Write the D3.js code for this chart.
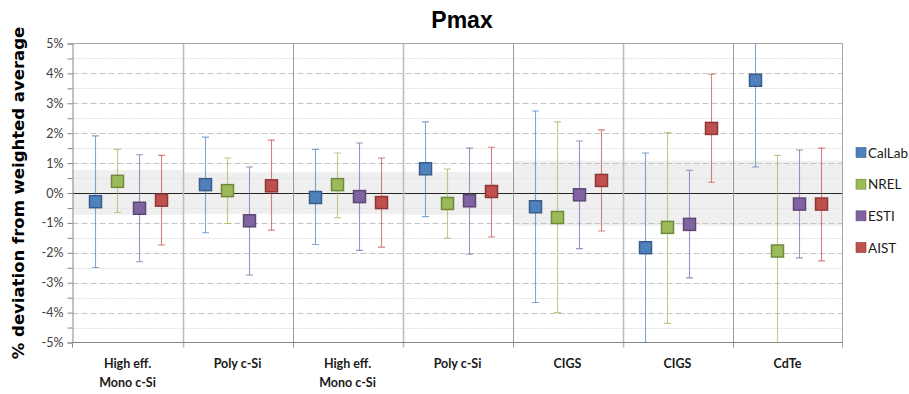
<!DOCTYPE html>
<html>
<head>
<meta charset="utf-8">
<script src="https://cdn.jsdelivr.net/npm/d3@7/dist/d3.min.js"></script>
<style>
  body { margin: 0; background: #fff; }
  svg { display: block; }
  .narrow { font-family: "Lato", "Roboto", sans-serif; }
</style>
</head>
<body>
<div id="chart"></div>
<script>
// categories along the x axis (two rounds of modules)
const categories = ["High eff.|Mono c-Si", "Poly c-Si", "High eff.|Mono c-Si", "Poly c-Si", "CIGS", "CIGS", "CdTe"];
const seriesNames = ["CalLab", "NREL", "ESTI", "AIST"];
const seriesColors = ["#4f81bd", "#9bbb59", "#8064a2", "#c0504d"];
const seriesStroke = ["#385d8a", "#71893f", "#5c4776", "#8c3836"];

// % deviation from weighted average, with upper / lower ends of the error bars
const calLab     = [-0.29, 0.28, -0.15, 0.81, -0.46, -1.83, 3.77];
const calLabUp   = [1.91, 1.87, 1.46, 2.38, 2.74, 1.34, 6.67];
const calLabDown = [-2.49, -1.33, -1.72, -0.79, -3.66, -5.00, 0.87];

const nrel     = [0.39, 0.08, 0.28, -0.35, -0.82, -1.15, -1.94];
const nrelUp   = [1.46, 1.17, 1.34, 0.80, 2.38, 2.02, 1.26];
const nrelDown = [-0.65, -1.02, -0.83, -1.51, -4.00, -4.36, -5.14];

const esti     = [-0.51, -0.93, -0.12, -0.26, -0.06, -1.05, -0.37];
const estiUp   = [1.28, 0.87, 1.67, 1.50, 1.74, 0.76, 1.44];
const estiDown = [-2.30, -2.74, -1.92, -2.05, -1.86, -2.84, -2.17];

const aist     = [-0.24, 0.24, -0.32, 0.05, 0.42, 2.16, -0.37];
const aistUp   = [1.26, 1.77, 1.17, 1.53, 2.11, 3.97, 1.50];
const aistDown = [-1.74, -1.24, -1.81, -1.47, -1.27, 0.36, -2.27];

// grey acceptance band per category
const bandUpper = [0.77, 0.69, 0.71, 0.71, 1.08, 1.08, 1.08];
const bandLower = [-0.73, -0.70, -0.70, -0.73, -1.09, -1.09, -1.10];

const yTicks = d3.range(-10, 11).map(d => d / 2);

const seriesData = [
  [calLab, calLabUp, calLabDown],
  [nrel, nrelUp, nrelDown],
  [esti, estiUp, estiDown],
  [aist, aistUp, aistDown]
];

const points = [];
seriesData.forEach((s, si) => {
  s[0].forEach((v, ci) => {
    points.push({ series: si, cat: ci, value: v, hi: s[1][ci], lo: s[2][ci] });
  });
});

const width = 909, height = 394;
const plot = { left: 72.5, right: 842.5, top: 43.5, bottom: 342.5 };

const svg = d3.select("#chart").append("svg")
  .attr("width", width)
  .attr("height", height);

const x0 = d3.scaleBand()
  .domain(d3.range(categories.length))
  .range([plot.left, plot.right]);

const x1 = d3.scaleBand()
  .domain(d3.range(seriesNames.length))
  .range([0, x0.bandwidth()])
  .paddingOuter(0.5);

const y = d3.scaleLinear()
  .domain([-5, 5])
  .range([plot.bottom, plot.top]);

svg.append("defs").append("clipPath").attr("id", "plotClip")
  .append("rect")
  .attr("x", plot.left)
  .attr("y", plot.top)
  .attr("width", plot.right - plot.left)
  .attr("height", plot.bottom - plot.top);

// bands
svg.append("g").selectAll("rect")
  .data(categories)
  .enter().append("rect")
  .attr("x", (d, i) => x0(i))
  .attr("width", x0.bandwidth())
  .attr("y", (d, i) => y(bandUpper[i]))
  .attr("height", (d, i) => y(bandLower[i]) - y(bandUpper[i]))
  .attr("fill", "#efefef");

// grid lines
svg.append("g").selectAll("line")
  .data(yTicks.filter(t => t !== 0 && t !== 5 && t !== -5))
  .enter().append("line")
  .attr("x1", plot.left)
  .attr("x2", plot.right)
  .attr("y1", d => Math.round(y(d)) + 0.5)
  .attr("y2", d => Math.round(y(d)) + 0.5)
  .attr("stroke", d => Number.isInteger(d) ? "#c4c4c4" : "#e2e2e2")
  .attr("stroke-dasharray", d => Number.isInteger(d) ? "6,3" : "2,1");

// zero line
svg.append("line")
  .attr("x1", plot.left).attr("x2", plot.right)
  .attr("y1", Math.round(y(0)) + 0.5).attr("y2", Math.round(y(0)) + 0.5)
  .attr("stroke", "#262626")
  .attr("stroke-width", 1.2);

// top and right border
svg.append("line")
  .attr("x1", plot.left).attr("x2", plot.right)
  .attr("y1", plot.top).attr("y2", plot.top)
  .attr("stroke", "#a6a6a6");
svg.append("line")
  .attr("x1", plot.right).attr("x2", plot.right)
  .attr("y1", plot.top).attr("y2", plot.bottom + 5)
  .attr("stroke", "#a6a6a6");

// category separators
svg.append("g").selectAll("line")
  .data(d3.range(1, categories.length))
  .enter().append("line")
  .attr("x1", d => Math.round(x0(d)) + 0.5)
  .attr("x2", d => Math.round(x0(d)) + 0.5)
  .attr("y1", plot.top)
  .attr("y2", plot.bottom + 5)
  .attr("stroke", (d) => d === 1 || d === 3 || d === 5 ? "#bdbdbd" : "#9a9a9a")
  .attr("stroke-width", (d) => d === 1 || d === 3 || d === 5 ? 1.6 : 1);

// y axis
const yAxis = d3.axisLeft(y)
  .tickValues(yTicks)
  .tickSize(5)
  .tickPadding(4)
  .tickFormat(d => Number.isInteger(d) ? d + "%" : "");

const gy = svg.append("g")
  .attr("transform", `translate(${plot.left},0)`)
  .attr("class", "narrow")
  .call(yAxis);
gy.select(".domain").attr("stroke", "#868686");
gy.selectAll(".tick line").attr("stroke", "#868686");
gy.selectAll(".tick text").attr("font-size", 12.5).attr("fill", "#404040");

// x axis
const gx = svg.append("g")
  .attr("transform", `translate(0,${plot.bottom})`)
  .attr("class", "narrow");
gx.append("line")
  .attr("x1", plot.left).attr("x2", plot.right)
  .attr("stroke", "#868686");
gx.append("line")
  .attr("x1", plot.left).attr("x2", plot.left)
  .attr("y2", 5)
  .attr("stroke", "#868686");

const labels = gx.selectAll("text")
  .data(categories)
  .enter().append("text")
  .attr("x", (d, i) => x0(i) + x0.bandwidth() / 2)
  .attr("y", 25)
  .attr("text-anchor", "middle")
  .attr("font-size", 12.5)
  .attr("font-weight", "bold")
  .attr("fill", "#1a1a1a");
labels.selectAll("tspan")
  .data(d => d.split("|"))
  .enter().append("tspan")
  .attr("x", function() { return this.parentNode.getAttribute("x"); })
  .attr("dy", (d, i) => i === 0 ? 0 : 19)
  .text(d => d);

// error bars
const bars = svg.append("g").attr("clip-path", "url(#plotClip)");
const capW = 3.5;
const px = d => x0(d.cat) + x1(d.series) + x1.bandwidth() / 2;

bars.selectAll("g")
  .data(points)
  .enter().append("g")
  .attr("stroke", d => seriesColors[d.series])
  .attr("stroke-opacity", 0.7)
  .attr("stroke-width", 1.1)
  .each(function(d) {
    const g = d3.select(this);
    const cx = Math.round(px(d)) + 0.5;
    g.append("line").attr("x1", cx).attr("x2", cx)
      .attr("y1", y(d.hi)).attr("y2", y(d.lo));
    g.append("line").attr("x1", cx - capW).attr("x2", cx + capW)
      .attr("y1", y(d.hi)).attr("y2", y(d.hi));
    g.append("line").attr("x1", cx - capW).attr("x2", cx + capW)
      .attr("y1", y(d.lo)).attr("y2", y(d.lo));
  });

// markers
const size = 12;
svg.append("g").selectAll("rect")
  .data(points)
  .enter().append("rect")
  .attr("x", d => Math.round(px(d)) + 0.5 - size / 2)
  .attr("y", d => y(d.value) - size / 2)
  .attr("width", size)
  .attr("height", size)
  .attr("fill", d => seriesColors[d.series])
  .attr("stroke", d => seriesStroke[d.series])
  .attr("stroke-width", 1.5);

// title
svg.append("text")
  .attr("x", 462)
  .attr("y", 28)
  .attr("text-anchor", "middle")
  .attr("font-family", "Liberation Sans, Arial, sans-serif")
  .attr("font-size", 23)
  .attr("font-weight", "bold")
  .attr("fill", "#000")
  .text("Pmax");

// y label
svg.append("text")
  .attr("transform", `translate(24,${(plot.top + plot.bottom) / 2}) rotate(-90)`)
  .attr("text-anchor", "middle")
  .attr("font-family", "DejaVu Sans, Verdana, sans-serif")
  .attr("font-size", 16.5)
  .attr("font-weight", "bold")
  .attr("fill", "#000")
  .text("% deviation from weighted average");

// legend
const legend = svg.append("g").attr("class", "narrow");
const legendY = d3.scalePoint()
  .domain(seriesNames)
  .range([152.5, 247.5]);
const lg = legend.selectAll("g")
  .data(seriesNames)
  .enter().append("g")
  .attr("transform", d => `translate(856,${legendY(d)})`);
lg.append("rect")
  .attr("x", 0).attr("y", -5)
  .attr("width", 10).attr("height", 10)
  .attr("fill", (d, i) => seriesColors[i])
  .attr("stroke", (d, i) => seriesStroke[i])
  .attr("stroke-width", 0.6);
lg.append("text")
  .attr("x", 12)
  .attr("y", 5)
  .attr("font-size", 13.5)
  .attr("fill", "#1a1a1a")
  .text(d => d);
</script>
</body>
</html>
